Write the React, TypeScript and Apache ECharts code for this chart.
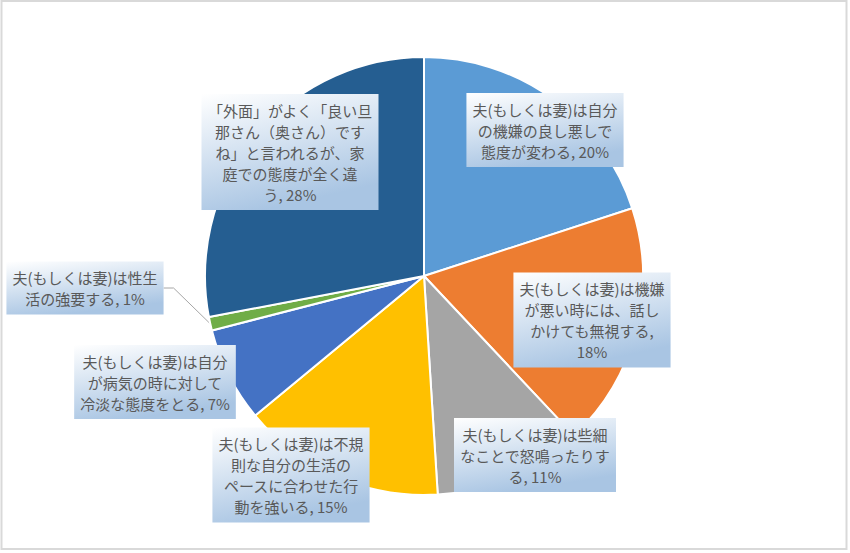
import { useEffect, useRef } from "react";
import * as echarts from "echarts";

// 項目名（改行は元グラフの折り返し位置）
const categories = [
  "夫(もしくは妻)は自分\nの機嫌の良し悪しで\n態度が変わる",
  "夫(もしくは妻)は機嫌\nが悪い時には、話し\nかけても無視する",
  "夫(もしくは妻)は些細\nなことで怒鳴ったりす\nる",
  "夫(もしくは妻)は不規\n則な自分の生活の\nペースに合わせた行\n動を強いる",
  "夫(もしくは妻)は自分\nが病気の時に対して\n冷淡な態度をとる",
  "夫(もしくは妻)は性生\n活の強要する",
  "「外面」がよく「良い旦\n那さん（奥さん）です\nね」と言われるが、家\n庭での態度が全く違\nう",
];
const percents = [20, 18, 11, 15, 7, 1, 28];
const colors = ["#5B9BD5", "#ED7D31", "#A5A5A5", "#FFC000", "#4472C4", "#70AD47", "#255E91"];
// ラベルの中心位置（px）
const labelCenters: [number, number][] = [
  [545, 130],
  [592, 320],
  [535, 455],
  [291, 475],
  [155, 382],
  [85, 288],
  [290, 152],
];
const separators = [", ", ",\n", ", ", ", ", ", ", ", ", ", "];

export default function App() {
  const chartRef = useRef<HTMLDivElement>(null);

  useEffect(() => {
    if (!chartRef.current) return;
    const chart = echarts.init(chartRef.current, undefined, { renderer: "svg" });

    const option: echarts.EChartsOption = {
      animation: false,
      backgroundColor: "#ffffff",
      graphic: [
        {
          type: "rect",
          shape: { x: 1.5, y: 1, width: 845, height: 548 },
          style: { fill: "none", stroke: "#d9d9d9", lineWidth: 2 },
          silent: true,
        },
      ],
      series: [
        {
          type: "pie",
          center: [424, 276],
          radius: 219,
          startAngle: 90,
          clockwise: true,
          avoidLabelOverlap: false,
          itemStyle: { borderColor: "#ffffff", borderWidth: 2 },
          label: {
            show: true,
            position: "outside",
            formatter: (p: any) => `${p.name}${separators[p.dataIndex]}${p.value}%`,
            fontFamily: "Noto Sans CJK JP",
            fontSize: 15,
            lineHeight: 21,
            color: "#595959",
            align: "center",
            padding: [6, 6, 5, 6],
            backgroundColor: {
              type: "linear",
              x: 0,
              y: 0,
              x2: 0.35,
              y2: 1,
              colorStops: [
                { offset: 0, color: "#ffffff" },
                { offset: 1, color: "#a9c5e3" },
              ],
            } as any,
          },
          labelLine: { show: false },
          labelLayout: (params: any) => ({
            x: labelCenters[params.dataIndex][0],
            y: labelCenters[params.dataIndex][1],
            align: "center",
            verticalAlign: "middle",
          }),
          data: categories.map((name, i) => ({
            name,
            value: percents[i],
            itemStyle: { color: colors[i] },
            labelLine:
              i === 5
                ? { show: true, length: 10, length2: 10, lineStyle: { color: "#a6a6a6", width: 1 } }
                : { show: false },
          })),
        },
      ],
    };

    chart.setOption(option);
    return () => chart.dispose();
  }, []);

  return (
    <div
      ref={chartRef}
      style={{ position: "fixed", left: 0, top: 0, width: 850, height: 553 }}
    />
  );
}
